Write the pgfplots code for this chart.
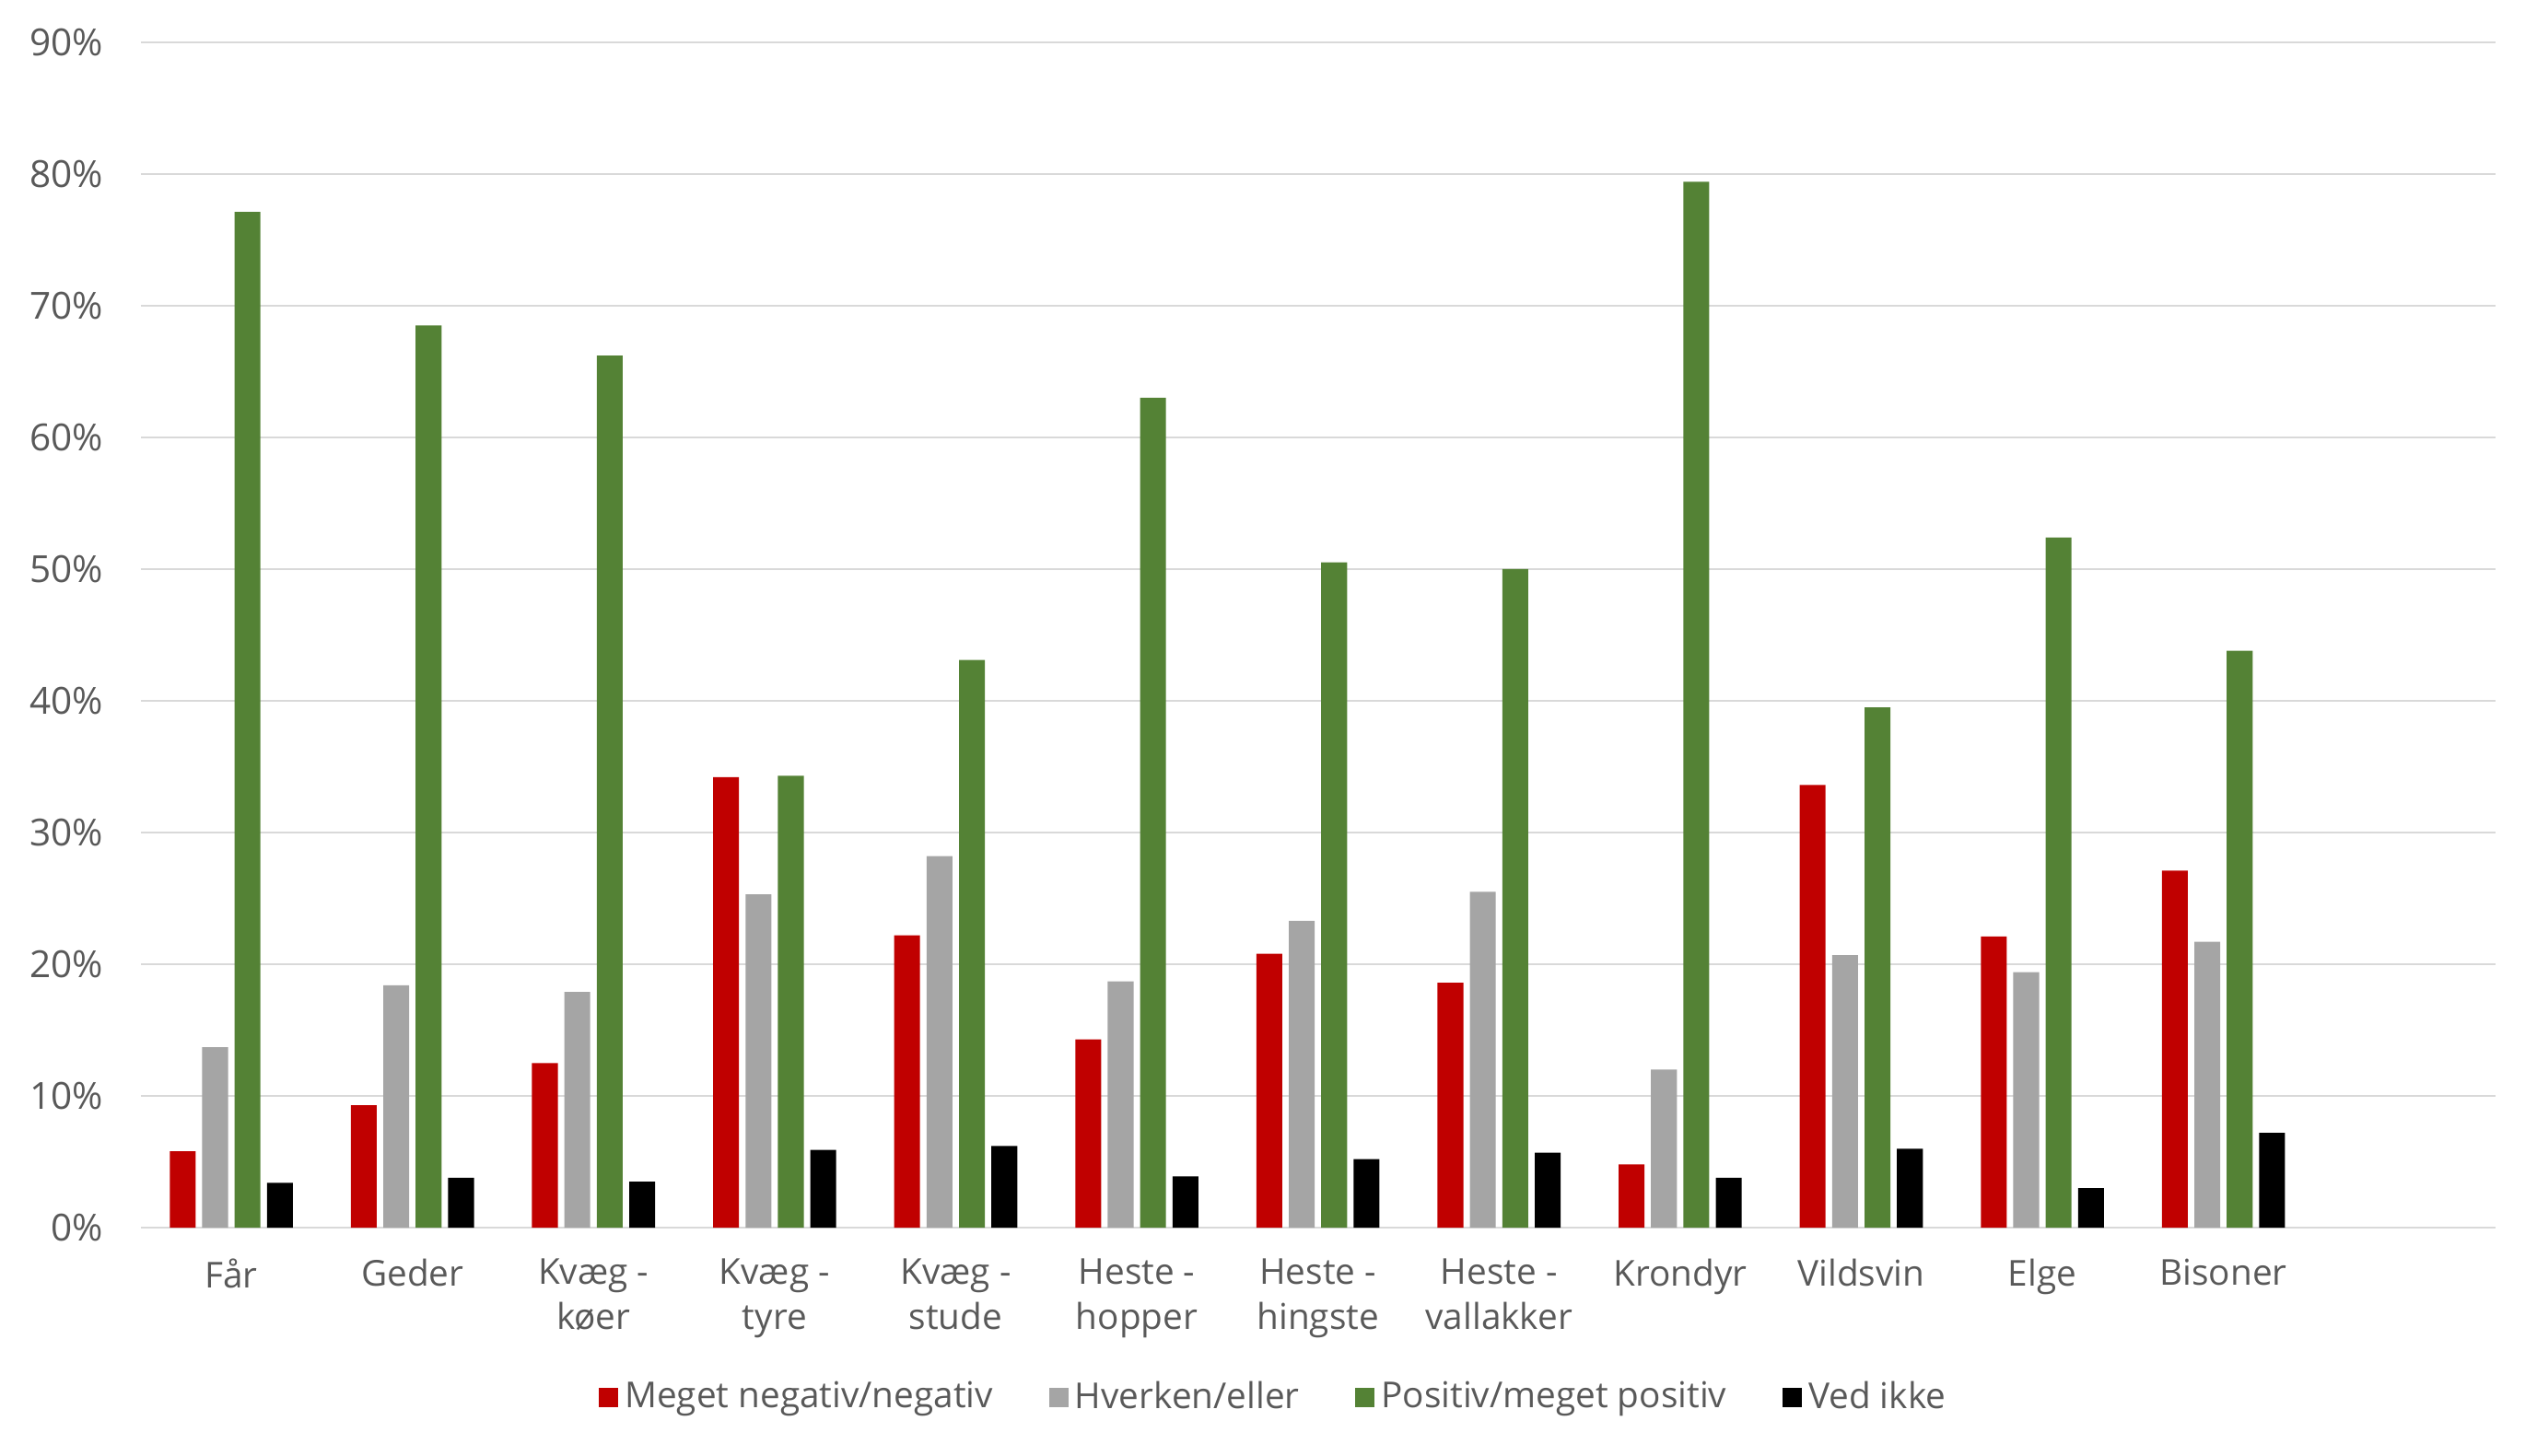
\documentclass[border=0pt]{standalone}
\usepackage{fontspec}
\setmainfont{Open Sans}
\usepackage{pgfplots}
\pgfplotsset{compat=1.18}
\definecolor{txt}{HTML}{595959}
\definecolor{gridc}{HTML}{D9D9D9}
\definecolor{cred}{HTML}{C00000}
\definecolor{cgray}{HTML}{A5A5A5}
\definecolor{cgreen}{HTML}{548235}
\begin{document}
\begin{tikzpicture}
\useasboundingbox (-43pt,-69.7pt) rectangle (732pt,375.15pt);
\begin{axis}[
  at={(0pt,0pt)}, anchor=south west,
  scale only axis, width=719.2pt, height=362.3pt,
  ymin=0, ymax=90, xmin=-0.5, xmax=12.5,
  ybar=2pt, bar width=7.9pt,
  ytick={0,10,...,90},
  yticklabel={\pgfmathprintnumber{\tick}\%},
  xtick={0,...,11},
  xticklabels={Får, Geder, {Kvæg -\\køer}, {Kvæg -\\tyre}, {Kvæg -\\stude}, {Heste -\\hopper}, {Heste -\\hingste}, {Heste -\\vallakker}, Krondyr, Vildsvin, Elge, Bisoner},
  ymajorgrids, grid style={color=gridc, line width=0.6pt},
  axis line style={draw=none},
  major tick length=0pt,
  tick style={draw=none},
  /pgf/number format/assume math mode=true,
  tick label style={color=txt},
  yticklabel style={font=\fontsize{11.4}{14}\selectfont, xshift=-8pt},
  xticklabel style={font=\fontsize{10.9}{13.8}\selectfont, align=center, yshift=-6pt},
  legend columns=4,
  legend style={draw=none, fill=none, at={(0.482,-0.143)}, anchor=center,
    font=\fontsize{10.9}{14}\selectfont, text=txt,
    /tikz/every even column/.append style={column sep=15pt}},
  mylegend/.style={legend image code/.code={\fill[##1] (-1.5pt,-3pt) rectangle (4.5pt,3pt);}},
]
\addplot[fill=cred, draw=none, mylegend] coordinates {(0,5.8) (1,9.3) (2,12.5) (3,34.2) (4,22.2) (5,14.3) (6,20.8) (7,18.6) (8,4.8) (9,33.6) (10,22.1) (11,27.1)};
\addplot[fill=cgray, draw=none, mylegend] coordinates {(0,13.7) (1,18.4) (2,17.9) (3,25.3) (4,28.2) (5,18.7) (6,23.3) (7,25.5) (8,12.0) (9,20.7) (10,19.4) (11,21.7)};
\addplot[fill=cgreen, draw=none, mylegend] coordinates {(0,77.1) (1,68.5) (2,66.2) (3,34.3) (4,43.1) (5,63.0) (6,50.5) (7,50.0) (8,79.4) (9,39.5) (10,52.4) (11,43.8)};
\addplot[fill=black, draw=none, mylegend] coordinates {(0,3.4) (1,3.8) (2,3.5) (3,5.9) (4,6.2) (5,3.9) (6,5.2) (7,5.7) (8,3.8) (9,6.0) (10,3.0) (11,7.2)};
\legend{Meget negativ/negativ, Hverken/eller, Positiv/meget positiv, Ved ikke}
\end{axis}
\end{tikzpicture}
\end{document}
